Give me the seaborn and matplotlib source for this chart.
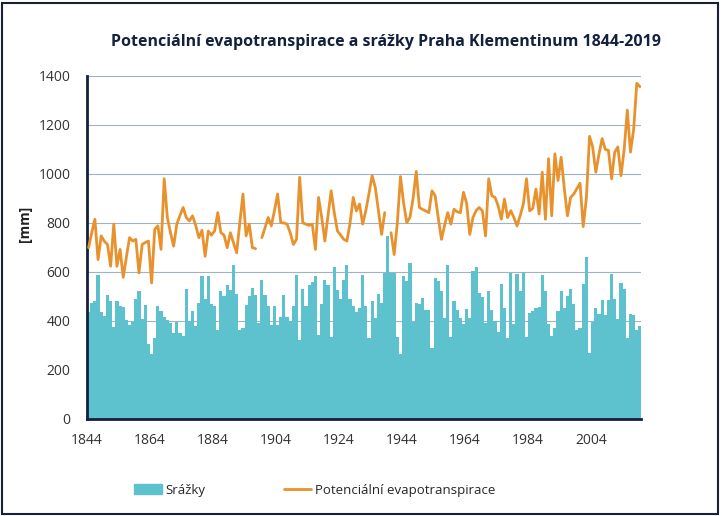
import numpy as np
import pandas as pd
import matplotlib
matplotlib.use("Agg")
import matplotlib.pyplot as plt
from matplotlib.patches import Rectangle, Patch
from matplotlib.lines import Line2D
import seaborn as sns

#   Data (mm), 1844-2019
years = list(range(1844, 2020))

precip = [
    438, 473, 480, 586, 435, 420, 504, 480, 377, 482,
    460, 455, 404, 384, 395, 489, 521, 410, 466, 308,
    267, 329, 459, 440, 415, 405, 390, 349, 395, 349,
    340, 531, 400, 440, 380, 473, 582, 490, 582, 470,
    460, 363, 521, 500, 548, 527, 630, 510, 363, 370,
    466, 500, 534, 505, 390, 568, 505, 459, 384, 459,
    384, 415, 504, 415, 400, 459, 589, 322, 531, 459,
    548, 560, 582, 342, 470, 568, 548, 336, 619, 527,
    490, 568, 630, 490, 459, 438, 452, 589, 459, 329,
    480, 411, 510, 473, 596, 747, 596, 596, 336, 267,
    582, 562, 637, 397, 473, 470, 493, 445, 445, 288,
    575, 562, 521, 411, 630, 336, 480, 445, 411,
    386, 447, 413, 604, 620, 515, 498, 393, 522, 443,
    399, 356, 550, 454, 331, 597, 388, 590, 522, 601,
    334, 434, 440, 454, 457, 588, 522, 386, 338, 372,
    440, 522, 454, 502, 529, 468, 365, 372, 552, 659,
    270, 397, 454, 427, 484, 425, 484, 590, 488, 406,
    556, 529, 331, 427, 425, 365, 379,
]

pet = [
    699, 760, 815, 650, 747, 725, 712, 623, 795, 623,
    692, 578, 660, 740, 726, 733, 596, 712, 720, 726,
    555, 774, 788, 692, 980, 822, 760, 705, 795, 830,
    863, 822, 808, 829, 790, 740, 770, 664, 767, 750,
    767, 842, 760, 750, 699, 760, 719, 678, 800, 918,
    747, 795, 699, 695, np.nan, 740, 780, 822, 788, 850,
    918, 801, 800, 795, 760, 712, 733, 986, 800, 795,
    790, 795, 692, 904, 822, 726, 830, 931, 840, 767,
    750, 733, 726, 800, 904, 849, 877, 795, 850, 920,
    993, 945, 850, 753, 842, np.nan, 760, 671, 800, 989,
    880, 801, 822, 900, 1010, 863, 855, 849, 842, 931,
    911, 820, 733, 790, 842, 795, 856, 845, 842, 925,
    880, 753, 822, 850, 863, 849, 747, 980, 911, 904,
    870, 815, 897, 822, 850, 822, 788, 830, 877, 980,
    849, 860, 938, 836, 1007, 815, 1062, 829, 1082, 973,
    1068, 940, 829, 904, 918, 940, 962, 785, 900, 1153,
    1110, 1007, 1080, 1144, 1100, 1096, 980, 1089, 1110, 993,
    1100, 1260, 1089, 1180, 1370, 1356,
]

yticks = [0, 200, 400, 600, 800, 1000, 1200, 1400]
xtick_years = [1844, 1864, 1884, 1904, 1924, 1944, 1964, 1984, 2004]

bar_color = "#5EC2CE"
line_color = "#E8922E"
navy = "#14213D"

df = pd.DataFrame({"Rok": years, "Srazky": precip, "PET": pet})
# break the line where values are missing
df["seg"] = df["PET"].isna().cumsum()

sns.set_style("white")
plt.rcParams["font.family"] = ["Open Sans", "DejaVu Sans"]

fig = plt.figure(figsize=(7.22, 5.16), dpi=100)
ax = fig.add_axes([0.1205, 0.188, 0.768, 0.665])

sns.barplot(data=df, x="Rok", y="Srazky", native_scale=True, width=1.0,
            color=bar_color, linewidth=0, saturation=1, ax=ax, zorder=2)
for _, seg in df.dropna(subset=["PET"]).groupby("seg"):
    sns.lineplot(data=seg, x="Rok", y="PET", color=line_color, lw=2.0,
                 ax=ax, zorder=3)

ax.set_xlim(years[0] - 0.5, years[-1] + 0.5)
ax.set_ylim(0, 1400)
ax.set_yticks(yticks)
ax.set_xticks([y - 0.5 for y in xtick_years])
ax.set_xticklabels([str(y) for y in xtick_years])
ax.yaxis.grid(True, color="#9FB3C2", lw=0.8, zorder=0)
ax.set_axisbelow(True)
ax.tick_params(axis="x", direction="out", length=4, width=1.5, color=navy,
               labelsize=10, labelcolor="#333333", pad=6)
ax.tick_params(axis="y", length=0, labelsize=10, labelcolor="#333333", pad=12)
for s in ["top", "right"]:
    ax.spines[s].set_visible(False)
for s in ["left", "bottom"]:
    ax.spines[s].set_color(navy)
    ax.spines[s].set_linewidth(2)
ax.set_xlabel("")
ax.set_ylabel("[mm]", fontsize=10, fontweight="bold", color="#222222")
ax.yaxis.set_label_coords(-0.1, 0.57)

fig.text(0.535, 0.918, "Potenciální evapotranspirace a srážky Praha Klementinum 1844-2019",
         ha="center", va="center", fontsize=11.5, fontweight="bold", color=navy)

handles = [Patch(facecolor=bar_color, edgecolor=bar_color),
           Line2D([0], [0], color=line_color, lw=2)]
fig.legend(handles, ["Srážky", "Potenciální evapotranspirace"], ncol=2,
           loc="center", bbox_to_anchor=(0.436, 0.05), frameon=False,
           fontsize=9.5, handlelength=2.1, handleheight=0.8,
           handletextpad=0.3, columnspacing=5.9)

# outer frame of the picture
fig.patches.append(Rectangle((0.003, 0.004), 0.992, 0.99, transform=fig.transFigure,
                             fill=False, edgecolor="#1A1F3A", lw=1.5))

fig.savefig("out.png", dpi=100)
